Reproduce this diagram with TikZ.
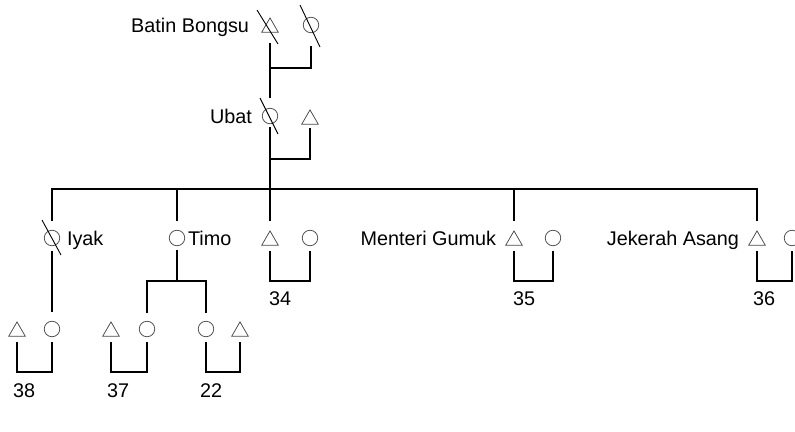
\documentclass[tikz,border=0pt]{standalone}
\usepackage{fontspec}
\setmainfont{Liberation Sans}
\usetikzlibrary{shapes.geometric}
\definecolor{symline}{HTML}{4A4A4A}
\begin{document}
\begin{tikzpicture}[x=1pt,y=-1pt,
  sym/.style={draw=symline, line width=0.75pt, inner sep=0pt, outer sep=0pt},
  fem/.style={sym, circle, minimum size=15.5pt},
  mal/.style={sym, regular polygon, regular polygon sides=3, minimum size=19pt, yshift=-2.4pt},
  link/.style={draw=black, line width=1.1pt, line cap=rect},
  dead/.style={draw=black, line width=0.9pt},
  lbl/.style={font=\fontsize{19.8}{24}\selectfont, inner sep=0pt, outer sep=0pt},
]
\useasboundingbox (0,0) rectangle (795,431);

% generation 0
\node[mal] (bbT) at (270,25) {};
\node[fem] (bbC) at (311,25) {};
% generation 1
\node[fem] (ubC) at (270,116) {};
\node[mal] (ubT) at (310,117) {};
% generation 2
\node[fem] (iyC)  at (52,238) {};
\node[fem] (tiC)  at (177,238) {};
\node[mal] (c34T) at (270,238) {};
\node[fem] (c34C) at (310,238) {};
\node[mal] (mgT)  at (514,238) {};
\node[fem] (mgC)  at (553,238) {};
\node[mal] (jaT)  at (757,238) {};
\node[fem] (jaC)  at (792,238) {};
% generation 3
\node[mal] (c38T) at (17,329) {};
\node[fem] (c38C) at (52,329) {};
\node[mal] (c37T) at (111,329) {};
\node[fem] (c37C) at (147,329) {};
\node[fem] (c22C) at (206,329) {};
\node[mal] (c22T) at (240,329) {};

% names
\node[lbl, anchor=base east] (nBB) at (249,32.5) {Batin Bongsu};
\node[lbl, anchor=base east] (nUb) at (252,123) {Ubat};
\node[lbl, anchor=base west] (nIy) at (67,245) {Iyak};
\node[lbl, anchor=base west] (nTi) at (188,245) {Timo};
\node[lbl, anchor=base east] (nMG) at (496,245) {Menteri Gumuk};
\node[lbl, anchor=base east] (nJA) at (739,245) {Jekerah Asang};
% household numbers
\node[lbl, anchor=base west] (n34) at (269,305.5) {34};
\node[lbl, anchor=base west] (n35) at (513,305.5) {35};
\node[lbl, anchor=base west] (n36) at (753,305.5) {36};
\node[lbl, anchor=base west] (n38) at (13,397) {38};
\node[lbl, anchor=base west] (n37) at (107,397) {37};
\node[lbl, anchor=base west] (n22) at (200,397) {22};

% deceased marks
\draw[dead] ([shift={(-13,-17.4)}]bbT.center) -- ([shift={(8,16.6)}]bbT.center);
\draw[dead] ([shift={(-11,-20)}]bbC.center) -- ([shift={(9,22)}]bbC.center);
\draw[dead] ([shift={(-10,-18)}]ubC.center) -- ([shift={(8,18)}]ubC.center);
\draw[dead] ([shift={(-10,-18)}]iyC.center) -- ([shift={(9,17)}]iyC.center);

% upper descent
\coordinate (m0) at (270,68);
\coordinate (m1) at (270,159);
\coordinate (kin) at (270,189);
\draw[link, shorten <=11, shorten >=11] (bbT.south) -- (ubC.north);
\draw[link, shorten <=14] (bbC.south) |- (m0);
\draw[link, shorten <=4] (ubC.south) -- (kin);
\draw[link, shorten <=4] (ubT.south) |- (m1);

% sibling bar of generation 2
\draw[link] (iyC.north |- kin) -- (jaT.north |- kin);
\foreach \c in {iyC,tiC,c34T,mgT,jaT}
  \draw[link, shorten >=10] (\c.north |- kin) -- (\c.north);

% marriages
\coordinate (bar2) at (0,281);
\coordinate (bar3) at (0,372);
\foreach \a/\b in {c34T/c34C, mgT/mgC, jaT/jaC}
  \draw[link, shorten <=6, shorten >=6] (\a.south) -- (\a.south |- bar2) -| (\b.south);
\foreach \a/\b in {c38T/c38C, c37T/c37C, c22C/c22T}
  \draw[link, shorten <=6, shorten >=6] (\a.south) -- (\a.south |- bar3) -| (\b.south);

% Iyak's daughter
\draw[link, shorten <=6, shorten >=10] (iyC.south) -- (c38C.north);
% Timo's daughters
\coordinate (tbar) at (177,281);
\draw[link, shorten <=5] (tiC.south) -- (tbar);
\draw[link] (c37C.north |- tbar) -- (c22C.north |- tbar);
\foreach \c in {c37C,c22C}
  \draw[link, shorten >=9] (\c.north |- tbar) -- (\c.north);
\end{tikzpicture}
\end{document}
